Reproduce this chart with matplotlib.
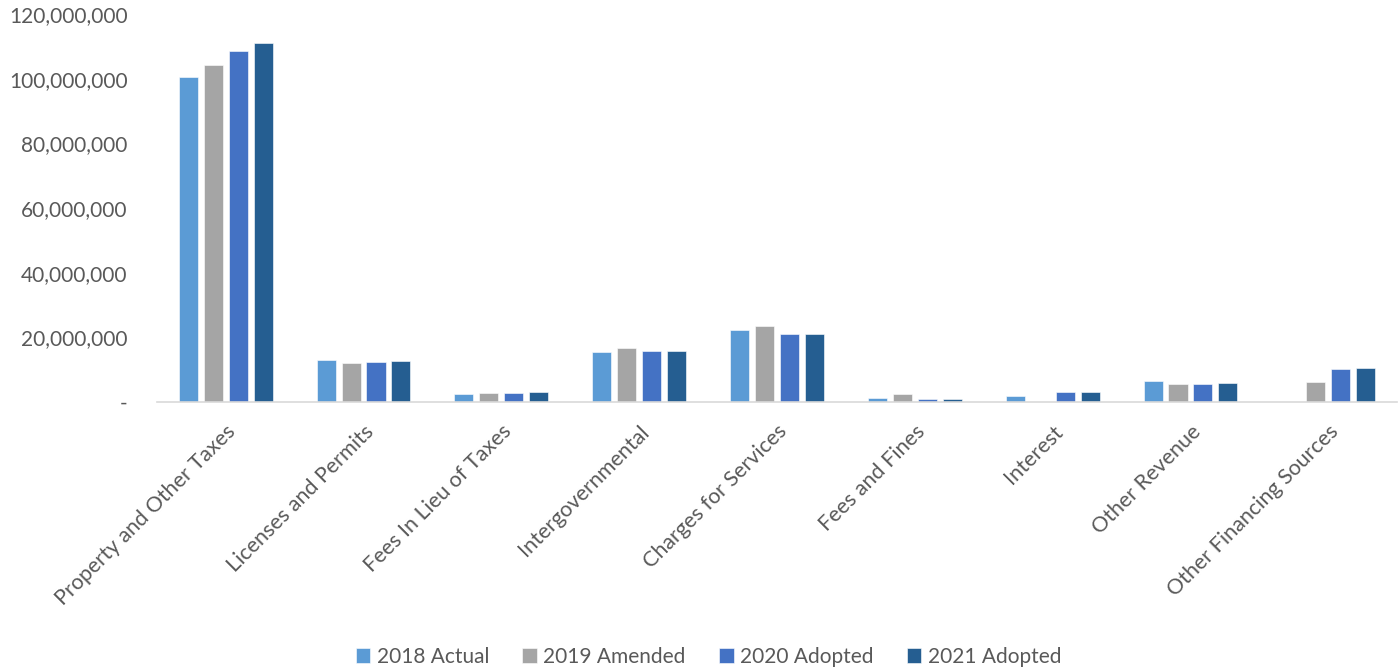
import numpy as np
import matplotlib.pyplot as plt
from matplotlib.ticker import FuncFormatter

plt.rcParams['font.family'] = ['Lato', 'DejaVu Sans']

categories = ["Property and Other Taxes", "Licenses and Permits", "Fees In Lieu of Taxes",
              "Intergovernmental", "Charges for Services", "Fees and Fines", "Interest",
              "Other Revenue", "Other Financing Sources"]
series_names = ["2018 Actual", "2019 Amended", "2020 Adopted", "2021 Adopted"]

actual_2018 = [100.5e6, 13.0e6, 2.5e6, 15.5e6, 22.4e6, 1.2e6, 1.9e6, 6.4e6, 0]
amended_2019 = [104.2e6, 12.1e6, 2.8e6, 16.7e6, 23.5e6, 2.3e6, 0, 5.4e6, 6.1e6]
adopted_2020 = [108.6e6, 12.4e6, 2.8e6, 15.7e6, 20.9e6, 0.8e6, 3.2e6, 5.6e6, 10.3e6]
adopted_2021 = [111.0e6, 12.6e6, 3.1e6, 15.8e6, 21.1e6, 0.9e6, 3.2e6, 5.8e6, 10.5e6]

colors = ["#5B9BD5", "#A5A5A5", "#4472C4", "#255E91"]

fig = plt.figure(figsize=(14, 6.71), dpi=100)
ax = fig.add_axes([0.112, 0.401, 0.886, 0.578])

x = np.arange(len(categories))
step = 0.181
width = 0.138
for i, (vals, name) in enumerate(zip([actual_2018, amended_2019, adopted_2020, adopted_2021], series_names)):
    ax.bar(x + (i - 1.5) * step, vals, width, color=colors[i], label=name,
           edgecolor="white", linewidth=0.4)

ax.set_xlim(-0.5, len(categories) - 0.5)
ax.set_ylim(0, 120e6)
ax.set_yticks(np.arange(0, 120e6 + 1, 20e6))
ax.yaxis.set_major_formatter(FuncFormatter(lambda v, p: "-" if v == 0 else f"{v:,.0f}"))
ax.set_xticks(x)
ax.set_xticklabels(categories, rotation=45, ha="right", rotation_mode="anchor")

for s in ["left", "right", "top"]:
    ax.spines[s].set_visible(False)
ax.spines["bottom"].set_color("#D9D9D9")
ax.spines["bottom"].set_linewidth(1.2)
ax.tick_params(axis="both", length=0, colors="#595959")
ax.tick_params(axis="y", pad=21, labelsize=15)
ax.tick_params(axis="x", pad=14, labelsize=15.5)

fig.legend(loc="lower center", ncol=4, frameon=False, fontsize=15,
           bbox_to_anchor=(0.506, -0.022), handlelength=0.7, handleheight=0.7,
           handletextpad=0.3, columnspacing=1.6, labelcolor="#595959")

fig.savefig("out.png", dpi=100)
